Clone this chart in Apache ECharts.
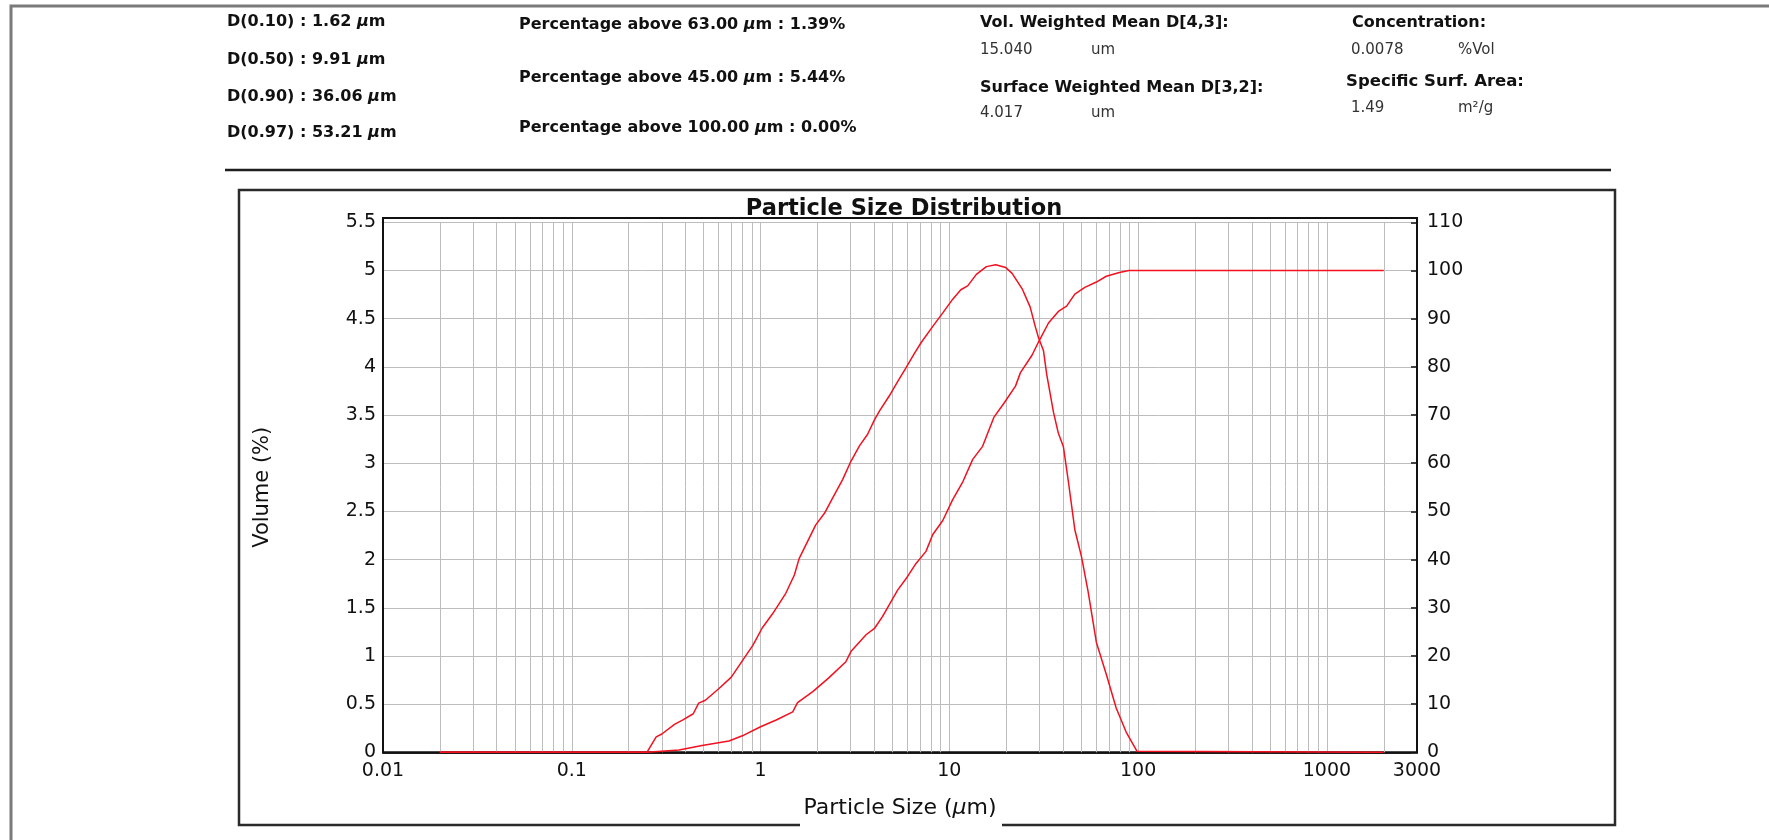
<!DOCTYPE html>
<html>
<head>
<meta charset="utf-8">
<title>Particle Size Distribution</title>
<script src="https://cdn.jsdelivr.net/npm/echarts@6/dist/echarts.min.js"></script>
<style>
    html, body { margin: 0; padding: 0; background: #fff; }
    #chart { width: 1769px; height: 840px; }
</style>
</head>
<body>
<div id="chart"></div>
<script>
// frequency curve: particle size (um) -> volume %
var freqSize = [0.02, 0.25, 0.28, 0.30, 0.35, 0.39, 0.44, 0.47, 0.51, 0.60, 0.70, 0.82, 0.91, 1.02, 1.16, 1.36, 1.51,
    1.60, 1.96, 2.18, 2.41, 2.72, 3.01, 3.34, 3.69, 4.01, 4.26, 4.81, 5.33, 5.89, 6.53, 7.08, 8.17, 9.23, 10.4, 11.5,
    12.5, 13.9, 15.7, 17.6, 19.9, 21.5, 24.3, 26.8, 28.5, 29.7, 31.5, 32.8, 35.6, 37.8, 40.2, 42.7, 46.2, 50.1, 54.3,
    60.1, 67.8, 76.5, 86.4, 98.7, 100.2, 2000];
var freqVol = [0, 0, 0.16, 0.19, 0.29, 0.34, 0.40, 0.51, 0.54, 0.66, 0.78, 0.98, 1.11, 1.29, 1.44, 1.65, 1.84,
    2.01, 2.36, 2.48, 2.64, 2.83, 3.02, 3.18, 3.30, 3.45, 3.54, 3.70, 3.85, 3.99, 4.14, 4.25, 4.42, 4.56, 4.70, 4.80,
    4.84, 4.96, 5.04, 5.06, 5.03, 4.97, 4.81, 4.62, 4.42, 4.30, 4.17, 3.92, 3.53, 3.31, 3.17, 2.81, 2.31, 2.03, 1.67,
    1.14, 0.81, 0.46, 0.21, 0.01, 0, 0];

// cumulative curve: particle size (um) -> volume % under
var cumSize = [0.02, 0.25, 0.37, 0.49, 0.68, 0.82, 1.0, 1.21, 1.48, 1.57, 1.89, 2.29, 2.83, 3.01, 3.62, 4.01, 4.43,
    5.33, 6.01, 6.66, 7.52, 8.17, 9.23, 10.4, 11.8, 13.3, 15.0, 17.2, 19.5, 22.4, 23.8, 27.4, 29.7, 33.5, 37.8, 41.8,
    46.2, 52.2, 60.1, 67.8, 79.6, 89.3, 2000];
var cumVol = [0, 0, 0.5, 1.4, 2.35, 3.6, 5.3, 6.7, 8.4, 10.3, 12.6, 15.4, 18.8, 20.9, 24.4, 25.7, 28.2,
    33.7, 36.5, 39.2, 41.7, 45.2, 48.1, 52.4, 56.2, 60.8, 63.5, 69.5, 72.5, 76.0, 78.8, 82.4, 85.2, 89.1, 91.5, 92.6,
    95.1, 96.5, 97.6, 98.8, 99.6, 100, 100];

// minor vertical grid lines of the log axis
var minorGrid = [0.02, 0.03, 0.04, 0.05, 0.06, 0.07, 0.08, 0.09,
    0.2, 0.3, 0.4, 0.5, 0.6, 0.7, 0.8, 0.9,
    2, 3, 4, 5, 6, 7, 8, 9,
    20, 30, 40, 50, 60, 70, 80, 90,
    200, 300, 400, 500, 600, 700, 800, 900, 2000];

// header results
var dLines = ['D(0.10) : 1.62 μm', 'D(0.50) : 9.91 μm', 'D(0.90) : 36.06 μm', 'D(0.97) : 53.21 μm'];
var pctLines = ['Percentage above 63.00 μm : 1.39%', 'Percentage above 45.00 μm : 5.44%',
    'Percentage above 100.00 μm : 0.00%'];
var meanLabels = ['Vol. Weighted Mean D[4,3]:', 'Surface Weighted Mean D[3,2]:'];
var meanValues = ['15.040', '4.017'];
var otherLabels = ['Concentration:', 'Specific Surf. Area:'];
var otherValues = ['0.0078', '1.49'];
var otherUnits = ['%Vol', 'm²/g'];

var FONT = '"DejaVu Sans", sans-serif';
var RED = '#f3101f';
var GRID = '#bdbdbd';

function pairs(xs, ys) {
    var out = [];
    for (var i = 0; i < xs.length; i++) out.push([xs[i], ys[i]]);
    return out;
}

// bold text with italic micro sign
function richText(str) {
    return str.split('μ').map(function (s) { return '{b|' + s + '}'; }).join('{i|μ}');
}

function headerText(x, y, str, size) {
    return {
        type: 'text', x: x, y: y, z: 10,
        style: {
            text: richText(str),
            verticalAlign: 'middle',
            rich: {
                b: { fontFamily: FONT, fontWeight: 'bold', fontSize: size, fill: '#111' },
                i: { fontFamily: FONT, fontWeight: 'bold', fontStyle: 'italic', fontSize: size, fill: '#111' }
            }
        }
    };
}

function plainText(x, y, str) {
    return {
        type: 'text', x: x, y: y, z: 10,
        style: { text: str, verticalAlign: 'middle', fontFamily: FONT, fontSize: 15, fill: '#333' }
    };
}

var graphics = [];
// outer frame and separator
graphics.push({ type: 'polyline', z: 1, shape: { points: [[11, 840], [11, 6], [1769, 6]] },
    style: { stroke: '#7a7a7a', lineWidth: 3, fill: null } });
graphics.push({ type: 'line', z: 1, shape: { x1: 225, y1: 170, x2: 1611, y2: 170 },
    style: { stroke: '#1e1e1e', lineWidth: 2.5 } });
// chart box, open where the x axis name sits
graphics.push({ type: 'polyline', z: 1,
    shape: { points: [[800, 825], [239, 825], [239, 190], [1615, 190], [1615, 825], [1002, 825]] },
    style: { stroke: '#2a2a2a', lineWidth: 2.5, fill: null } });
// plot frame
graphics.push({ type: 'rect', z: 1, shape: { x: 383, y: 218, width: 1034, height: 534.3 },
    style: { stroke: '#111', lineWidth: 2, fill: null } });

var dY = [22, 60, 97, 133];
dLines.forEach(function (s, i) { graphics.push(headerText(227, dY[i], s, 16)); });
var pY = [25, 78, 128];
pctLines.forEach(function (s, i) { graphics.push(headerText(519, pY[i], s, 16)); });
var mY = [23, 88], mvY = [50, 113];
meanLabels.forEach(function (s, i) {
    graphics.push(headerText(980, mY[i], s, 16));
    graphics.push(plainText(980, mvY[i], meanValues[i]));
    graphics.push(plainText(1091, mvY[i], 'um'));
});
var oX = [1352, 1346], oY = [23, 82], ovY = [50, 108];
otherLabels.forEach(function (s, i) {
    graphics.push(headerText(oX[i], oY[i], s, i === 1 ? 16.5 : 16));
    graphics.push(plainText(1351, ovY[i], otherValues[i]));
    graphics.push(plainText(1458, ovY[i], otherUnits[i]));
});

var chart = echarts.init(document.getElementById('chart'));
var option = {
    animation: false,
    backgroundColor: '#fff',
    title: {
        text: 'Particle Size Distribution',
        left: 904, top: 198, textAlign: 'center', padding: 0,
        textStyle: { fontFamily: FONT, fontWeight: 'bold', fontSize: 22.5, color: '#111' }
    },
    grid: { left: 383, right: 352, top: 222.3, bottom: 87.7 },
    xAxis: {
        type: 'log', logBase: 10, min: 0.01, max: 3000,
        name: 'Particle Size ({i|μ}m)',
        nameLocation: 'middle', nameGap: 45,
        nameTextStyle: {
            fontFamily: FONT, fontSize: 22, color: '#111',
            rich: { i: { fontFamily: FONT, fontSize: 22, fontStyle: 'italic', color: '#111' } }
        },
        axisLine: { lineStyle: { color: '#222', width: 2 } },
        axisTick: { show: false },
        axisLabel: {
            margin: 9, fontFamily: FONT, fontSize: 19, color: '#111',
            formatter: function (v) { return String(+Number(v).toPrecision(4)); }
        },
        splitLine: { show: true, lineStyle: { color: GRID, width: 1 } }
    },
    yAxis: [{
        type: 'value', min: 0, max: 5.5, interval: 0.5,
        name: 'Volume (%)', nameLocation: 'middle', nameGap: 110,
        nameTextStyle: { fontFamily: FONT, fontSize: 21, color: '#111' },
        axisLine: { show: true, lineStyle: { color: '#111', width: 2 } },
        axisTick: { show: false },
        axisLabel: { margin: 7, fontFamily: FONT, fontSize: 19, color: '#111' },
        splitLine: { show: true, lineStyle: { color: GRID, width: 1 } }
    }, {
        type: 'value', min: 0, max: 110, interval: 10, position: 'right',
        axisLine: { show: true, lineStyle: { color: '#555', width: 2 } },
        axisTick: { show: true, inside: true, length: 6, lineStyle: { color: '#444', width: 2 } },
        axisLabel: { margin: 10, fontFamily: FONT, fontSize: 19, color: '#111' },
        splitLine: { show: false }
    }],
    graphic: graphics,
    series: [{
        // minor log grid
        type: 'line', data: [], silent: true, z: 1,
        markLine: {
            silent: true, symbol: ['none', 'none'], animation: false,
            label: { show: false },
            lineStyle: { color: GRID, width: 1, type: 'solid' },
            emphasis: { disabled: true },
            data: minorGrid.map(function (v) { return { xAxis: v }; })
        }
    }, {
        name: 'Volume', type: 'line', yAxisIndex: 0, z: 5,
        showSymbol: false, symbol: 'none',
        lineStyle: { color: RED, width: 1.5 },
        data: pairs(freqSize, freqVol)
    }, {
        name: 'Cumulative', type: 'line', yAxisIndex: 1, z: 5,
        showSymbol: false, symbol: 'none',
        lineStyle: { color: RED, width: 1.5 },
        data: pairs(cumSize, cumVol)
    }]
};
chart.setOption(option);
</script>
</body>
</html>
